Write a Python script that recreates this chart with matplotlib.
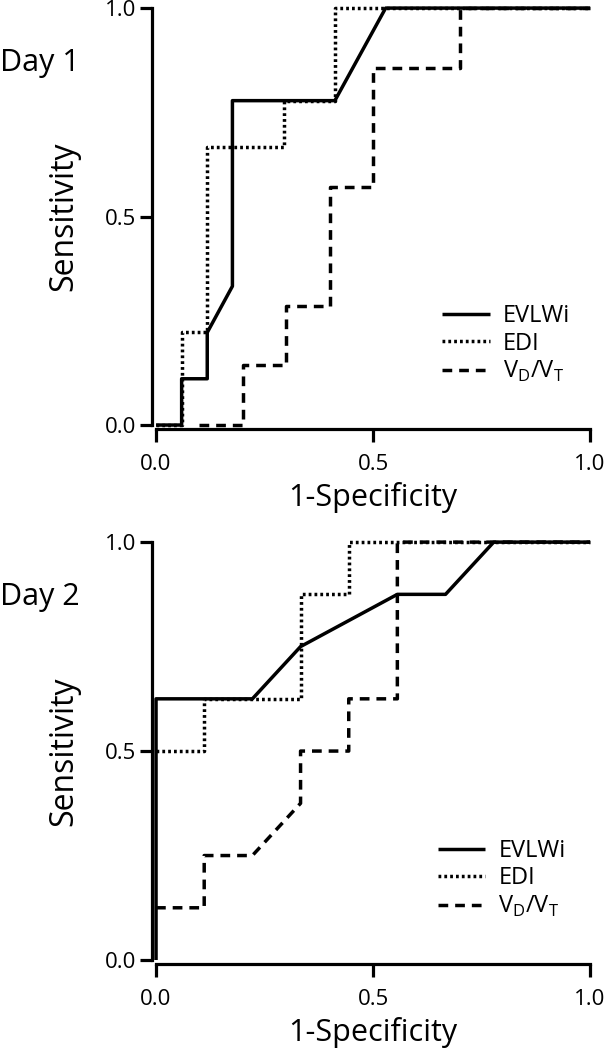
import numpy as np
import matplotlib
matplotlib.use("Agg")
import matplotlib.pyplot as plt

plt.rcParams["font.family"] = ["Open Sans", "DejaVu Sans"]
plt.rcParams["mathtext.fontset"] = "custom"
plt.rcParams["mathtext.rm"] = "Open Sans"
plt.rcParams["lines.scale_dashes"] = False

# Day 1 ROC curves (1-specificity, sensitivity)
day1_evlwi_x = [0.0, 0.059, 0.059, 0.118, 0.118, 0.176, 0.176, 0.412, 0.529, 1.0]
day1_evlwi_y = [0.0, 0.0, 0.111, 0.111, 0.222, 0.333, 0.778, 0.778, 1.0, 1.0]
day1_edi_x = [0.0, 0.059, 0.059, 0.118, 0.118, 0.294, 0.294, 0.412, 0.412, 1.0]
day1_edi_y = [0.0, 0.0, 0.222, 0.222, 0.667, 0.667, 0.778, 0.778, 1.0, 1.0]
day1_vdvt_x = [0.1, 0.2, 0.2, 0.3, 0.3, 0.4, 0.4, 0.5, 0.5, 0.7, 0.7, 1.0]
day1_vdvt_y = [0.0, 0.0, 0.143, 0.143, 0.286, 0.286, 0.571, 0.571, 0.857, 0.857, 1.0, 1.0]

# Day 2 ROC curves
day2_evlwi_x = [0.0, 0.0, 0.222, 0.333, 0.556, 0.667, 0.778, 1.0]
day2_evlwi_y = [0.0, 0.625, 0.625, 0.75, 0.875, 0.875, 1.0, 1.0]
day2_edi_x = [0.0, 0.111, 0.111, 0.333, 0.333, 0.444, 0.444, 1.0]
day2_edi_y = [0.5, 0.5, 0.625, 0.625, 0.875, 0.875, 1.0, 1.0]
day2_vdvt_x = [0.0, 0.111, 0.111, 0.222, 0.333, 0.333, 0.444, 0.444, 0.556, 0.556, 1.0]
day2_vdvt_y = [0.125, 0.125, 0.25, 0.25, 0.375, 0.5, 0.5, 0.625, 0.625, 1.0, 1.0]

ticks = [0.0, 0.5, 1.0]
tick_labels = ["0.0", "0.5", "1.0"]
series_labels = ["EVLWi", "EDI", r"V$_\mathregular{D}$/V$_\mathregular{T}$"]

LW = 2.5
styles = [
    dict(linestyle="-"),
    dict(linestyle=(0, (2.0, 2.2))),
    dict(linestyle=(0, (7.0, 5.0))),
]


def draw_panel(ax, curves, day_label, fig, day_y, legend_anchor):
    for (x, y), label, st in zip(curves, series_labels, styles):
        ax.plot(x, y, color="black", lw=LW, label=label, clip_on=False,
                solid_capstyle="butt", dash_capstyle="butt", **st)

    ax.set_xlim(0, 1)
    ax.set_ylim(0, 1)
    for side in ["top", "right"]:
        ax.spines[side].set_visible(False)
    for side in ["left", "bottom"]:
        ax.spines[side].set_position(("outward", 3))
        ax.spines[side].set_linewidth(2.3)
        ax.spines[side].set_bounds(0, 1)

    ax.set_xticks(ticks)
    ax.set_xticklabels(tick_labels)
    ax.set_yticks(ticks)
    ax.set_yticklabels(tick_labels)
    ax.tick_params(axis="both", direction="out", length=9, width=2.3,
                   labelsize=16)
    ax.tick_params(axis="x", pad=9)
    ax.tick_params(axis="y", pad=2)

    ax.set_xlabel("1-Specificity", fontsize=22, labelpad=5)
    ax.set_ylabel("Sensitivity", fontsize=23, labelpad=18)

    ax.legend(loc="upper left", bbox_to_anchor=legend_anchor, frameon=False,
              fontsize=17, handlelength=2.0, handletextpad=0.55,
              labelspacing=0.15, borderpad=0, borderaxespad=0)

    fig.text(0.0, day_y, day_label, fontsize=22, ha="left", va="center")


fig = plt.figure(figsize=(6.05, 10.5), dpi=100)
ax1 = fig.add_axes([0.2579, 0.5952, 0.7174, 0.3971])
ax2 = fig.add_axes([0.2579, 0.0857, 0.7174, 0.3980])

draw_panel(ax1,
           [(day1_evlwi_x, day1_evlwi_y), (day1_edi_x, day1_edi_y),
            (day1_vdvt_x, day1_vdvt_y)],
           "Day 1", fig, 1 - 63 / 1050, (0.66, 0.29))
draw_panel(ax2,
           [(day2_evlwi_x, day2_evlwi_y), (day2_edi_x, day2_edi_y),
            (day2_vdvt_x, day2_vdvt_y)],
           "Day 2", fig, 1 - 597 / 1050, (0.65, 0.29))

fig.savefig("out.png", dpi=100, facecolor="white")
